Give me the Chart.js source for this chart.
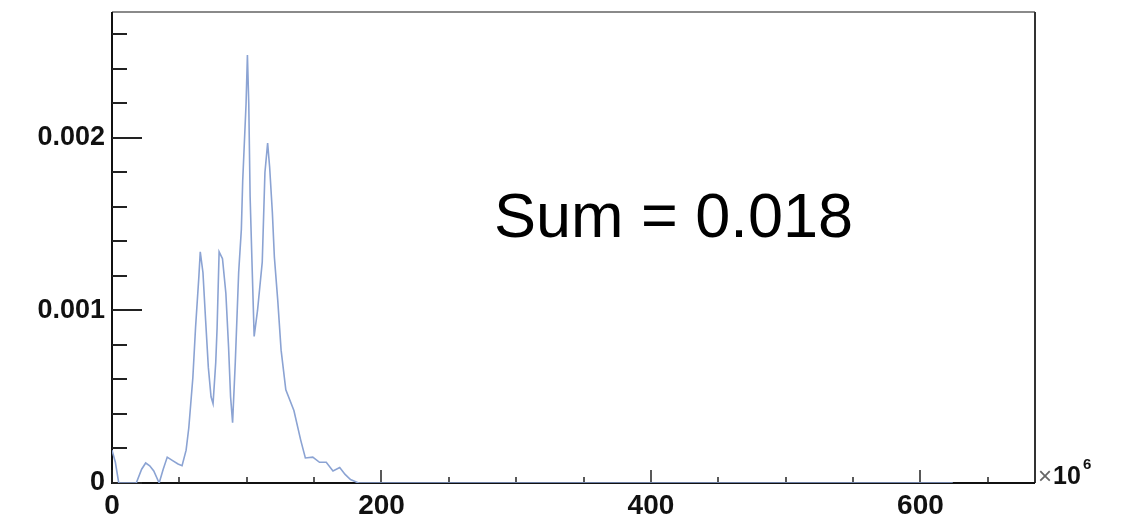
<!DOCTYPE html>
<html>
<head>
<meta charset="utf-8">
<script src="https://cdn.jsdelivr.net/npm/chart.js@4.4.1/dist/chart.umd.min.js"></script>
<style>
  html, body { margin: 0; padding: 0; background: #ffffff; }
  #wrap { width: 1121px; height: 519px; position: relative; }
</style>
</head>
<body>
<div id="wrap"><canvas id="c"></canvas></div>
<script>
// x values in units of 10^6
const xValues = [0, 2.5, 5, 10, 15, 18, 22, 25, 28, 31, 35, 38, 41, 45, 49, 52, 55, 57, 60, 62,
  64.5, 65.5, 67.5, 69.5, 71.5, 73.5, 75, 77, 78, 79.5, 82, 84.5, 86.5, 88, 89.5, 91.5, 94, 96,
  97, 99.5, 100.5, 101.5, 102.5, 104, 105.5, 108, 111.5, 113.5, 115.5, 117, 119, 120.5, 123,
  125.5, 129, 135, 140, 143.5, 149, 154, 159, 164, 169, 173, 177, 183, 624];
const yValues = [0.00019, 0.00012, 0, 0, 0, 0, 0.00008, 0.000116, 0.0001, 0.00007, 0, 0.00008,
  0.00015, 0.00013, 0.00011, 0.0001, 0.00019, 0.00032, 0.00061, 0.0009,
  0.0012, 0.00134, 0.00122, 0.00094, 0.00067, 0.0005, 0.00046, 0.0007, 0.0009, 0.00134, 0.0013,
  0.0011, 0.00079, 0.0005, 0.00035, 0.0007, 0.00122, 0.00147,
  0.00175, 0.0022, 0.00248, 0.0022, 0.00166, 0.00125, 0.00085, 0.001, 0.00128, 0.0018, 0.00197,
  0.00183, 0.00157, 0.00131, 0.00106,
  0.00077, 0.00054, 0.00042, 0.00025, 0.000145, 0.00015, 0.00012, 0.00012, 0.00007, 0.00009,
  0.00005, 0.00002, 0, 0];
const xMajorLabels = [0, 200, 400, 600];
const yMajorLabels = [0, 0.001, 0.002];
const annotationText = "Sum = 0.018";
const exponentBase = "10";
const exponentPower = "6";

const points = xValues.map((x, i) => ({ x: x, y: yValues[i] }));

const isMajor = (v, list) => list.some(m => Math.abs(v - m) < 1e-9);

const framePlugin = {
  id: 'frame',
  beforeDatasetsDraw(chart) {
    const { ctx, chartArea: a, scales } = chart;
    ctx.save();
    ctx.strokeStyle = '#8a8a8a';
    ctx.lineWidth = 2;
    ctx.beginPath(); ctx.moveTo(a.left, a.top); ctx.lineTo(a.right, a.top); ctx.stroke();
    ctx.strokeStyle = '#333333';
    ctx.beginPath(); ctx.moveTo(a.right, a.top); ctx.lineTo(a.right, a.bottom); ctx.stroke();
    ctx.strokeStyle = '#111111';
    ctx.beginPath(); ctx.moveTo(a.left, a.top); ctx.lineTo(a.left, a.bottom); ctx.lineTo(a.right, a.bottom); ctx.stroke();
    ctx.strokeStyle = '#222222';
    ctx.lineWidth = 2;
    scales.y.ticks.forEach(t => {
      const py = Math.round(scales.y.getPixelForValue(t.value));
      const len = isMajor(t.value, yMajorLabels) ? 30 : 15;
      ctx.beginPath(); ctx.moveTo(a.left, py); ctx.lineTo(a.left + len, py); ctx.stroke();
    });
    ctx.lineWidth = 1.5;
    scales.x.ticks.forEach(t => {
      const px = Math.round(scales.x.getPixelForValue(t.value));
      const len = isMajor(t.value, xMajorLabels) ? 13 : 6;
      ctx.beginPath(); ctx.moveTo(px, a.bottom); ctx.lineTo(px, a.bottom - len); ctx.stroke();
    });
    ctx.restore();
  },
  afterDraw(chart) {
    const { ctx, chartArea: a } = chart;
    ctx.save();
    ctx.fillStyle = '#000000';
    ctx.textBaseline = 'alphabetic';
    ctx.textAlign = 'left';
    ctx.font = '63px "Liberation Sans", Arial, sans-serif';
    ctx.fillText(annotationText, 494, 237);
    ctx.fillStyle = '#666666';
    ctx.font = '24px "Liberation Sans", Arial, sans-serif';
    ctx.fillText('\u00d7', a.right + 3, a.bottom + 1);
    ctx.fillStyle = '#111111';
    ctx.font = 'bold 25px "Liberation Sans", Arial, sans-serif';
    ctx.fillText(exponentBase, a.right + 18, a.bottom + 1);
    ctx.font = 'bold 15px "Liberation Sans", Arial, sans-serif';
    ctx.fillText(exponentPower, a.right + 48, a.bottom - 14);
    ctx.restore();
  }
};

new Chart(document.getElementById('c'), {
  type: 'line',
  data: {
    datasets: [{
      data: points,
      borderColor: '#8ba3d3',
      borderWidth: 1.6,
      pointRadius: 0,
      tension: 0,
      fill: false
    }]
  },
  options: {
    responsive: true,
    maintainAspectRatio: false,
    animation: false,
    layout: { padding: { top: 12, right: 86, left: 0, bottom: 0 } },
    plugins: { legend: { display: false }, tooltip: { enabled: false } },
    scales: {
      x: {
        type: 'linear',
        min: 0,
        max: 685,
        grid: { display: false, drawTicks: false },
        border: { display: false },
        ticks: {
          stepSize: 50,
          includeBounds: false,
          autoSkip: false,
          maxRotation: 0,
          padding: 6,
          color: '#111111',
          font: { family: '"Liberation Sans", Arial, sans-serif', size: 28, weight: 'bold' },
          callback: (v) => isMajor(v, xMajorLabels) ? String(Math.round(v)) : ''
        },
        afterFit: (s) => { s.height = 36; s.paddingLeft = 0; s.paddingRight = 0; }
      },
      y: {
        min: 0,
        max: 0.00273,
        grid: { display: false, drawTicks: false },
        border: { display: false },
        ticks: {
          stepSize: 0.0002,
          includeBounds: false,
          autoSkip: false,
          padding: 7,
          color: '#111111',
          font: { family: '"Liberation Sans", Arial, sans-serif', size: 27, weight: 'bold' },
          callback: (v) => isMajor(v, yMajorLabels) ? (Math.abs(v) < 1e-12 ? '0' : v.toFixed(3)) : ''
        },
        afterFit: (s) => { s.width = 112; s.paddingTop = 0; s.paddingBottom = 0; }
      }
    }
  },
  plugins: [framePlugin]
});
</script>
</body>
</html>
